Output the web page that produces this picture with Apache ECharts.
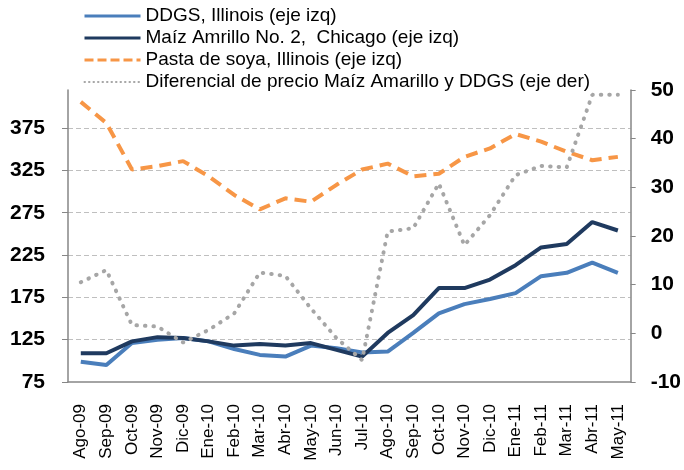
<!DOCTYPE html>
<html>
<head>
<meta charset="utf-8">
<script src="https://cdn.jsdelivr.net/npm/echarts@6/dist/echarts.min.js"></script>
<style>
  html, body { margin: 0; padding: 0; background: #fff; }
  #chart { width: 684px; height: 470px; }
</style>
</head>
<body>
<div id="chart"></div>
<script>
// meses
const months = ['Ago-09', 'Sep-09', 'Oct-09', 'Nov-09', 'Dic-09', 'Ene-10', 'Feb-10', 'Mar-10', 'Abr-10', 'May-10', 'Jun-10',
    'Jul-10', 'Ago-10', 'Sep-10', 'Oct-10', 'Nov-10', 'Dic-10', 'Ene-11', 'Feb-11', 'Mar-11', 'Abr-11', 'May-11'];

// eje izq
const ddgs = [99, 95, 121, 125, 127, 123, 114, 107, 105, 118, 115, 110, 111, 133, 156, 167, 173, 180, 200, 204, 216, 204];
const maiz = [109, 109, 123, 128, 127, 123, 118, 120, 118, 121, 113, 105, 133, 154, 186, 186, 196, 213, 234, 238, 264, 254];
const pasta = [406, 381, 326, 330, 336, 318, 296, 279, 292, 288, 308, 326, 333, 318, 321, 341, 351, 368, 359, 347, 337, 341];

// eje der
const diferencial = [10.5, 13, 1.7, 1.4, -1.9, 0.7, 4.1, 12.5, 11.8, 5.1, -1, -5.5, 20.9, 21.6, 30.8, 18.1, 24.3, 32.5, 34.4, 34.1, 49, 49];

const names = ['DDGS, Illinois (eje izq)', 'Maíz Amrillo No. 2,  Chicago (eje izq)',
    'Pasta de soya, Illinois (eje izq)', 'Diferencial de precio Maíz Amarillo y DDGS (eje der)'];

const chart = echarts.init(document.getElementById('chart'));

const font = 'Liberation Sans, Arial, sans-serif';
const axisGray = '#868686';

chart.setOption({
    animation: false,
    textStyle: { fontFamily: font },
    grid: { left: 68, right: 53, top: 90, bottom: 88 },
    legend: {
        orient: 'vertical',
        left: 78,
        top: 1,
        itemWidth: 56,
        itemHeight: 12,
        itemGap: 2,
        itemStyle: { opacity: 0 },
        lineStyle: { width: 3 },
        data: [
            names[0],
            names[1],
            { name: names[2], lineStyle: { width: 3, type: [9, 4] } },
            { name: names[3], lineStyle: { width: 2, type: [0.5, 4] } }
        ],
        textStyle: { fontSize: 19, color: '#000', lineHeight: 20, fontFamily: font }
    },
    xAxis: {
        type: 'category',
        data: months,
        boundaryGap: true,
        axisLine: { onZero: false, lineStyle: { color: axisGray, width: 1.5 } },
        axisTick: { length: 5, lineStyle: { color: axisGray } },
        axisLabel: { rotate: 90, interval: 0, margin: 22, fontSize: 17, color: '#000' }
    },
    yAxis: [
        {
            type: 'value',
            min: 75,
            max: 420,
            interval: 50,
            axisLine: { show: true, lineStyle: { color: axisGray, width: 1.5 } },
            axisTick: { show: true, length: 6, lineStyle: { color: axisGray } },
            axisLabel: { showMaxLabel: false, margin: 23, fontSize: 21, fontWeight: 'bold', color: '#000' },
            splitLine: { show: true, showMinLine: false, showMaxLine: false, lineStyle: { color: '#bfbfbf', type: [5, 3] } }
        },
        {
            type: 'value',
            min: -10,
            max: 50,
            interval: 10,
            axisLine: { show: true, lineStyle: { color: axisGray, width: 1.5 } },
            axisTick: { show: true, length: 5, lineStyle: { color: axisGray } },
            axisLabel: { margin: 20, fontSize: 21, fontWeight: 'bold', color: '#000' },
            splitLine: { show: false }
        }
    ],
    series: [
        {
            name: names[0],
            type: 'line',
            data: ddgs,
            symbol: 'none',
            color: '#4a7ebb',
            lineStyle: { width: 4, color: '#4a7ebb' }
        },
        {
            name: names[1],
            type: 'line',
            data: maiz,
            symbol: 'none',
            color: '#1f3a5f',
            lineStyle: { width: 4, color: '#1f3a5f' }
        },
        {
            name: names[2],
            type: 'line',
            data: pasta,
            symbol: 'none',
            color: '#f79646',
            lineStyle: { width: 4, color: '#f79646', type: [12, 7], cap: 'butt' }
        },
        {
            name: names[3],
            type: 'line',
            yAxisIndex: 1,
            data: diferencial,
            symbol: 'none',
            color: '#a6a6a6',
            lineStyle: { width: 4, color: '#a6a6a6', type: [0.5, 8], cap: 'round' }
        }
    ]
});
</script>
</body>
</html>
